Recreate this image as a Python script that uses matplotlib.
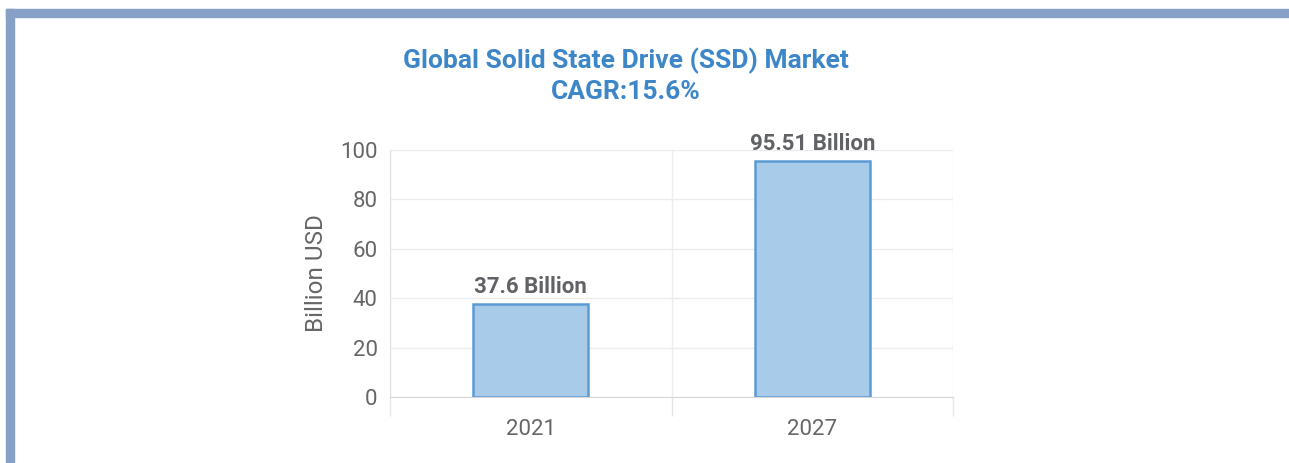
import matplotlib
matplotlib.use("Agg")
import matplotlib.pyplot as plt
from matplotlib.patches import Rectangle

categories = ["2021", "2027"]
values = [37.6, 95.51]
labels = ["37.6 Billion", "95.51 Billion"]
yticks = [0, 20, 40, 60, 80, 100]
title = "Global Solid State Drive (SSD) Market\nCAGR:15.6%"
ylabel = "Billion USD"

plt.rcParams['font.family'] = ['Roboto', 'DejaVu Sans']

W, H = 1289, 463
fig = plt.figure(figsize=(W / 100, H / 100), dpi=100)
fig.patch.set_facecolor("white")

border = "#87a0c8"
fig.patches.append(Rectangle((6 / W, 1 - 17 / H), 1 - 6 / W, 8 / H,
                             transform=fig.transFigure, color=border, zorder=0))
fig.patches.append(Rectangle((6 / W, 0), 8 / W, 1 - 9 / H,
                             transform=fig.transFigure, color=border, zorder=0))

ax = fig.add_axes([390 / W, 66 / H, 563 / W, 247 / H])
x = list(range(len(categories)))
bars = ax.bar(x, values, width=0.41, color="#a9cbea", edgecolor="#5c9ad4",
              linewidth=1.8, zorder=3)
for xi, v, lab in zip(x, values, labels):
    ax.text(xi, v + 2.6, lab, ha="center", va="bottom", fontsize=16,
            fontweight="bold", color="#606266")

ax.set_xlim(-0.5, len(categories) - 0.5)
ax.set_ylim(0, 100)
ax.set_yticks(yticks)
ax.set_yticklabels([str(t) for t in yticks], fontsize=16, color="#666666")
ax.set_xticks(x)
ax.set_xticklabels(categories, fontsize=16, color="#666666")
ax.tick_params(axis="y", length=0, pad=9)
ax.tick_params(axis="x", length=0, pad=16)
ax.set_xticks([i - 0.5 for i in range(len(categories) + 1)], minor=True)
ax.tick_params(axis="x", which="minor", length=14, color="#e6e6e6", width=1)
ax.grid(axis="y", color="#ececec", linewidth=1, zorder=0)
ax.grid(axis="x", which="minor", color="#ececec", linewidth=1, zorder=0)
for s in ["top", "right"]:
    ax.spines[s].set_visible(False)
ax.spines["left"].set_color("#e0e0e0")
ax.spines["bottom"].set_color("#d8d8d8")
ax.set_ylabel(ylabel, fontsize=17.5, color="#666666", labelpad=9)

fig.text(626 / W, 1 - 76 / H, title, ha="center", va="center", fontsize=19,
         fontweight="bold", color="#3d87c9", linespacing=1.32)

fig.savefig("out.png", dpi=100)
